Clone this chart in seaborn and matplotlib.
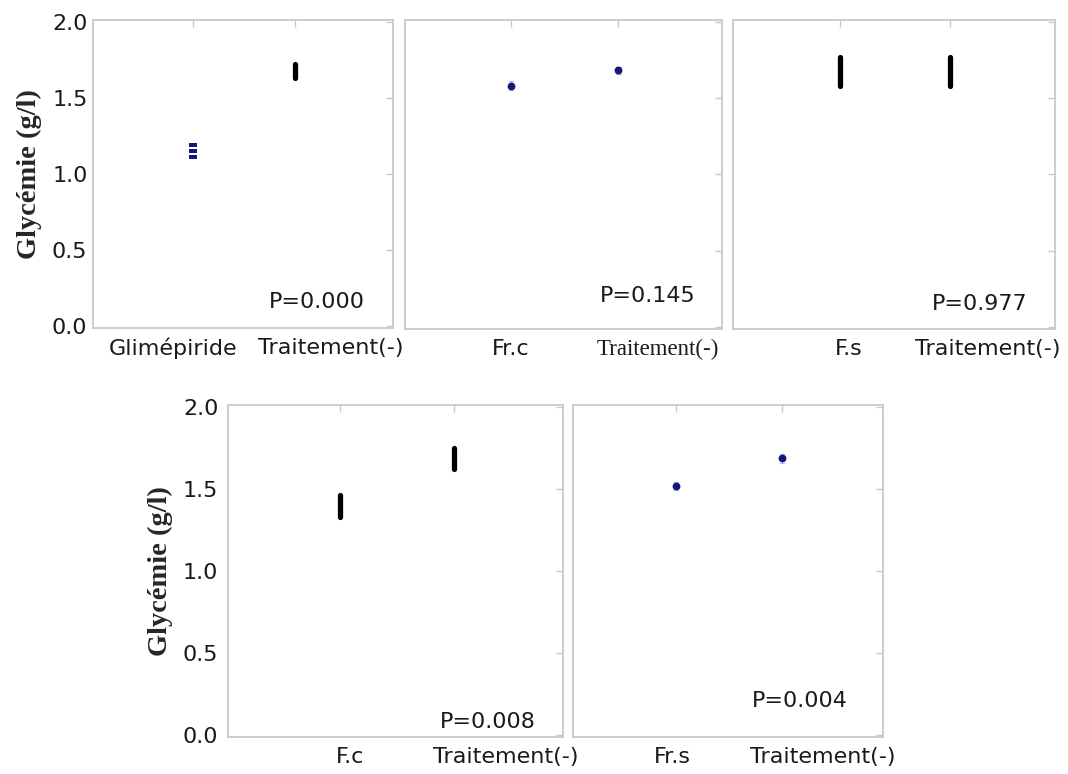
import matplotlib
matplotlib.use("Agg")
import matplotlib.pyplot as plt
from matplotlib.transforms import ScaledTranslation
import pandas as pd
import seaborn as sns

# Glycémie (g/l) mesurée pour chaque groupe, un panneau par comparaison
glimepiride = [1.19, 1.15, 1.11]
temoin_1 = [1.63, 1.655, 1.68, 1.70, 1.72]
fr_c = [1.55, 1.58, 1.61]
temoin_2 = [1.655, 1.68, 1.705]
f_s = [1.58, 1.62, 1.67, 1.72, 1.77]
temoin_3 = [1.58, 1.63, 1.67, 1.72, 1.77]
f_c = [1.33, 1.37, 1.40, 1.43, 1.46]
temoin_4 = [1.62, 1.66, 1.69, 1.72, 1.75]
fr_s = [1.49, 1.515, 1.54]
temoin_5 = [1.66, 1.685, 1.71]

traitement_label = "Traitement(-)"
panel_groups = [
    ["Glimépiride", traitement_label],
    ["Fr.c", traitement_label],
    ["F.s", traitement_label],
    ["F.c", traitement_label],
    ["Fr.s", traitement_label],
]
panel_values = [
    [glimepiride, temoin_1],
    [fr_c, temoin_2],
    [f_s, temoin_3],
    [f_c, temoin_4],
    [fr_s, temoin_5],
]
# "strip": individual points, "dot": mean ± sd, "bar": full range
panel_styles = [
    ["strip", "bar"],
    ["dot", "dot"],
    ["bar", "bar"],
    ["bar", "bar"],
    ["dot", "dot"],
]
p_values = ["P=0.000", "P=0.145", "P=0.977", "P=0.008", "P=0.004"]
y_ticks = [0.0, 0.5, 1.0, 1.5, 2.0]
y_label = "Glycémie (g/l)"

sns.set_style("white")
plt.rcParams["font.family"] = ["DejaVu Sans"]

fig = plt.figure(figsize=(10.68, 7.74), dpi=100)
W, H = 1068, 774

def px_axes(left, top, right, bottom):
    return fig.add_axes([left / W, 1 - bottom / H, (right - left) / W, (bottom - top) / H])

axes = [
    px_axes(93, 20, 393, 328),
    px_axes(405, 20, 722, 329),
    px_axes(733, 20, 1055, 329),
    px_axes(228, 405, 563, 737),
    px_axes(573, 405, 883, 737),
]

frame_color = "#c9c9c9"
navy = "#17177a"
faint_blue = "#b4b8f2"
# short horizontal dash used for individual readings
dash_marker = [(-1.5, -0.75), (1.5, -0.75), (1.5, 0.75), (-1.5, 0.75), (-1.5, -0.75)]

# horizontal shift of each x tick label, in pixels
label_shift = [(-20, 36), (0, 39), (8, 38), (10, 52), (-4, 41)]
p_pos = [(0.747, 0.085), (0.767, 0.107), (0.767, 0.08), (0.776, 0.045), (0.732, 0.108)]

for i, ax in enumerate(axes):
    groups = panel_groups[i]
    frames = []
    for g, vals in zip(groups, panel_values[i]):
        frames.append(pd.DataFrame({"groupe": g, "glycemie": vals}))
    for g, style, sub in zip(groups, panel_styles[i], frames):
        if style == "bar":
            sns.pointplot(data=sub, x="groupe", y="glycemie", order=groups,
                          errorbar=("pi", 100), color="black", markers="",
                          linestyle="none", capsize=0,
                          err_kws={"linewidth": 3.8}, ax=ax)
        elif style == "dot":
            sns.pointplot(data=sub, x="groupe", y="glycemie", order=groups,
                          errorbar="sd", color=navy, markers="o", markersize=3.6,
                          linestyle="none", capsize=0.04,
                          err_kws={"linewidth": 0.9, "color": faint_blue, "zorder": 1},
                          ax=ax)
        else:
            sns.stripplot(data=sub, x="groupe", y="glycemie", order=groups,
                          jitter=False, marker=dash_marker, size=5.5, color=navy,
                          linewidth=0, ax=ax)

    ax.set_xlim(-0.98, 1.96)
    ax.set_ylim(-0.01, 2.01)
    ax.set_yticks(y_ticks)
    ax.set_xlabel("")
    ax.set_ylabel("")
    for side in ax.spines.values():
        side.set_visible(True)
        side.set_color(frame_color)
        side.set_linewidth(1.3)
    ax.tick_params(axis="both", direction="in", length=5, width=1,
                   color=frame_color, top=True, right=True, labelsize=16,
                   labelcolor="#1a1a1a")
    ax.tick_params(axis="x", pad=7)

    if i in (0, 3):
        ax.set_yticklabels([f"{v:.1f}" for v in y_ticks])
        ax.tick_params(axis="y", pad=4 if i == 0 else 7)
        ax.set_ylabel(y_label, fontsize=20.5, fontweight="bold",
                      family="Liberation Serif", labelpad=7)
    else:
        ax.set_yticklabels([])

    ax.set_xticks([0, 1])
    ax.set_xticklabels(groups)
    for lab, dx in zip(ax.get_xticklabels(), label_shift[i]):
        lab.set_transform(lab.get_transform() +
                          ScaledTranslation(dx / 100, 0, fig.dpi_scale_trans))
    if i == 1:
        serif_lab = ax.get_xticklabels()[1]
        serif_lab.set_family("Liberation Serif")
        serif_lab.set_fontsize(16.5)

    ax.text(p_pos[i][0], p_pos[i][1], p_values[i], transform=ax.transAxes,
            ha="center", va="center", fontsize=16, color="#1a1a1a")

fig.savefig("out.png", dpi=100, facecolor="white")
